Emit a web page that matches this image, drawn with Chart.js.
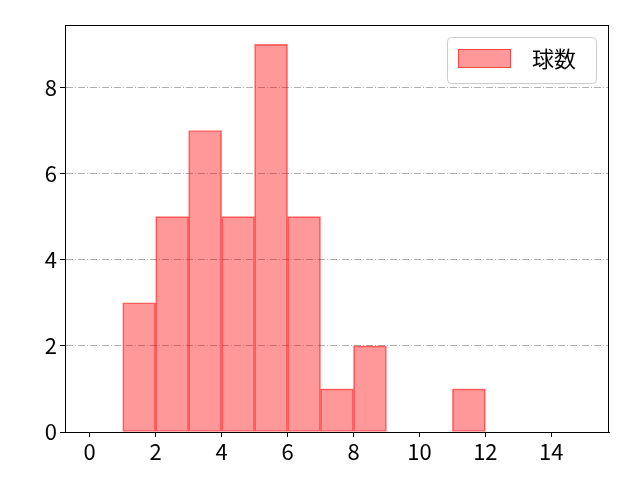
<!DOCTYPE html>
<html>
<head>
<meta charset="utf-8">
<script src="https://cdn.jsdelivr.net/npm/chart.js@4/dist/chart.umd.min.js"></script>
<style>
html,body{margin:0;padding:0;background:#fff;}
#wrap{width:640px;height:480px;}
</style>
</head>
<body>
<div id="wrap"><canvas id="c" width="640" height="480"></canvas></div>
<script>
const binStarts = [0,1,2,3,4,5,6,7,8,9,10,11,12,13,14];
const counts    = [0,3,5,7,5,9,5,1,2,0,0,1,0,0,0];
const xTicks = [0,2,4,6,8,10,12,14];
const yTicks = [0,2,4,6,8];
const seriesLabel = '球数';

const FONT = "'Noto Sans CJK JP', 'DejaVu Sans', sans-serif";
const FILL = 'rgba(255,0,0,0.4)';
const EDGE = 'rgba(255,0,0,0.55)';

const framePlugin = {
  id: 'frame',
  afterDraw(chart) {
    const {ctx, chartArea: a} = chart;
    ctx.save();
    ctx.strokeStyle = '#000';
    ctx.lineWidth = 1;
    ctx.strokeRect(a.left + 0.5, a.top + 0.5, a.right - a.left - 1, a.bottom - a.top);
    // legend
    const bx = 447.5, by = 37.5, bw = 149, bh = 46, r = 4;
    ctx.beginPath();
    ctx.moveTo(bx + r, by);
    ctx.arcTo(bx + bw, by, bx + bw, by + bh, r);
    ctx.arcTo(bx + bw, by + bh, bx, by + bh, r);
    ctx.arcTo(bx, by + bh, bx, by, r);
    ctx.arcTo(bx, by, bx + bw, by, r);
    ctx.closePath();
    ctx.fillStyle = 'rgba(255,255,255,0.8)';
    ctx.fill();
    ctx.strokeStyle = '#cccccc';
    ctx.lineWidth = 1;
    ctx.stroke();
    ctx.fillStyle = FILL;
    ctx.fillRect(458, 49, 53, 19);
    ctx.strokeStyle = EDGE;
    ctx.strokeRect(458.5, 49.5, 52, 18);
    ctx.fillStyle = '#000';
    ctx.font = '22px ' + FONT;
    ctx.textBaseline = 'middle';
    ctx.textAlign = 'left';
    ctx.fillText(chart.data.datasets[0].label, 532, 59);
    ctx.restore();
  }
};

new Chart(document.getElementById('c'), {
  type: 'bar',
  data: {
    datasets: [{
      label: seriesLabel,
      data: binStarts.map((s, i) => ({x: s + 0.5, y: counts[i]})),
      backgroundColor: FILL,
      borderColor: EDGE,
      borderWidth: 1,
      borderSkipped: false,
      barPercentage: 1,
      categoryPercentage: 1
    }]
  },
  options: {
    responsive: false,
    animation: false,
    devicePixelRatio: 1,
    layout: {padding: {top: 25, right: 31, left: 0, bottom: 0}},
    plugins: {legend: {display: false}, tooltip: {enabled: false}},
    scales: {
      x: {
        type: 'linear',
        offset: false,
        min: -0.75,
        max: 15.75,
        afterBuildTicks: s => { s.ticks = xTicks.map(v => ({value: v})); },
        afterFit: s => { s.height = 48; },
        grid: {offset: false, drawOnChartArea: false, drawTicks: true, tickLength: 5, color: '#000'},
        border: {display: true, color: '#000'},
        ticks: {color: '#000', font: {family: FONT, size: 22}, padding: 1, maxRotation: 0, autoSkip: false}
      },
      y: {
        min: 0,
        max: 9.45,
        afterBuildTicks: s => { s.ticks = yTicks.map(v => ({value: v})); },
        afterFit: s => { s.width = 65; },
        grid: {
          drawOnChartArea: true, drawTicks: true, tickLength: 5,
          color: '#b0b0b0',
          tickColor: '#000'
        },
        border: {display: true, color: '#000', dash: [7, 2, 1, 2]},
        ticks: {color: '#000', font: {family: FONT, size: 22}, padding: 3}
      }
    }
  },
  plugins: [framePlugin]
});
</script>
</body>
</html>
